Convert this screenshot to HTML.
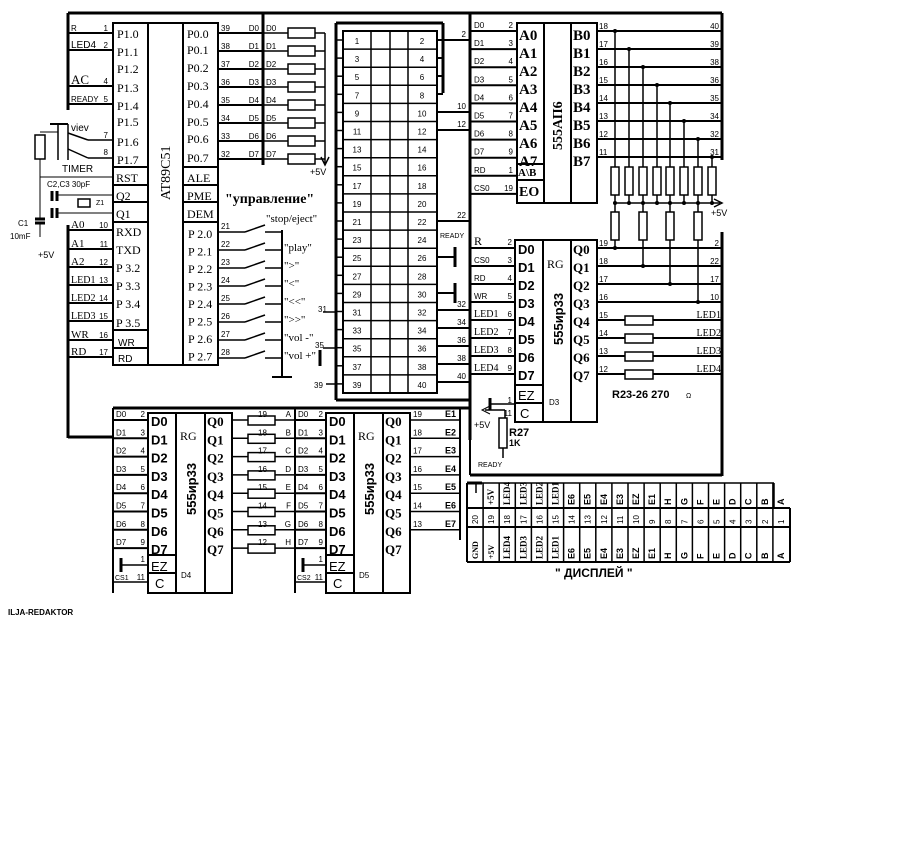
<!DOCTYPE html>
<html><head><meta charset="utf-8"><style>
html,body{margin:0;padding:0;background:#fff;width:915px;height:841px;overflow:hidden}
svg{display:block}
</style></head><body>
<svg id="s" width="915" height="841" xmlns="http://www.w3.org/2000/svg" font-family="Liberation Sans, DejaVu Sans, sans-serif"></svg>
<script>
var s=document.getElementById('s'),h='';
function L(a,b,c,d,w){h+='<line x1="'+a+'" y1="'+b+'" x2="'+c+'" y2="'+d+'" stroke="#000" stroke-width="'+(w||1)+'"/>';}
function R(x,y,w,hh,sw){h+='<rect x="'+x+'" y="'+y+'" width="'+w+'" height="'+hh+'" fill="none" stroke="#000" stroke-width="'+(sw||2)+'"/>';}
function T(x,y,t,sz,an,ff,fw){h+='<text x="'+x+'" y="'+y+'" font-size="'+(sz||9)+'" text-anchor="'+(an||'start')+'"'+(ff?' font-family="'+ff+'"':'')+(fw?' font-weight="'+fw+'"':'')+'>'+t+'</text>';}
function TV(x,y,t,sz,ff,fw){h+='<text transform="translate('+x+','+y+') rotate(-90)" font-size="'+(sz||9)+'"'+(ff?' font-family="'+ff+'"':'')+(fw?' font-weight="'+fw+'"':'')+'>'+t+'</text>';}
function RES(x,y,w,hh){h+='<rect x="'+x+'" y="'+y+'" width="'+w+'" height="'+hh+'" fill="#fff" stroke="#000" stroke-width="1.5"/>';}
function DOT(x,y){h+='<circle cx="'+x+'" cy="'+y+'" r="2"/>';}
var SER='Liberation Serif, serif';
L(68,13,722,13,3);L(722,13,722,160,3);
L(68,13,68,110,3);L(68,225,68,438,3);L(68,437,113,437,3);
L(263,13,263,165,3);L(470,13,470,440,3);
R(113,23,35,342);R(148,23,35,342);R(183,23,35,342);
var lc=[['P1.0',34],['P1.1',52],['P1.2',69],['P1.3',88],['P1.4',106],['P1.5',122],['P1.6',142],['P1.7',160]];
lc.forEach(function(a){T(117,a[1]+4,a[0],12,'start',SER);});
L(113,167,148,167,2);L(113,185,148,185,2);L(113,202,148,202,2);L(113,222,148,222,2);L(113,330,148,330,2);L(113,348,148,348,2);
T(116,182,'RST',12,'start',SER);T(116,200,'Q2',12,'start',SER);T(116,218,'Q1',12,'start',SER);
[['RXD',236],['TXD',254],['P 3.2',272],['P 3.3',290],['P 3.4',308],['P 3.5',327]].forEach(function(a){T(116,a[1],a[0],12,'start',SER);});
T(118,346,'WR',10);T(118,362,'RD',10);
var rc=['P0.0','P0.1','P0.2','P0.3','P0.4','P0.5','P0.6','P0.7'];
var py=[36,52,70,88,106,124,141,160];
rc.forEach(function(t,i){T(187,py[i]+2,t,12,'start',SER);});
L(183,167,218,167,2);L(183,185,218,185,2);L(183,202,218,202,2);L(183,222,218,222,2);
T(187,182,'ALE',12,'start',SER);T(187,200,'PME',12,'start',SER);T(187,218,'DEM',12,'start',SER);
for(var i=0;i<8;i++)T(188,238+i*17.5,'P 2.'+i,12,'start',SER);
TV(170,200,'AT89C51',14,SER);
var lp=[['R','1',31],['LED4','2',48],['AC','4',84],['READY','5',102]];
lp.forEach(function(a){L(68,a[2]+2,113,a[2]+2,2);T(71,a[2],a[0],a[0]=='AC'?13:(a[0]=='LED4'?10:8),'start',a[0]=='AC'?SER:null);T(108,a[2],a[1],8,'end');});
var lp2=[['A0','10',230],['A1','11',249],['A2','12',267],['LED1','13',285],['LED2','14',303],['LED3','15',321],['WR','16',340],['RD','17',357]];
lp2.forEach(function(a){L(68,a[2],113,a[2],2);T(71,a[2]-2,a[0],a[0].length==2?11:10,'start',SER);T(108,a[2]-2,a[1],8,'end');});
L(50,124,68,124,2);L(58,124,58,160,1.5);L(68,124,68,160,1.5);
L(68,133,88,140,1.5);L(88,140,113,140,1.5);L(68,149,88,158,1.5);L(88,158,113,158,1.5);
T(71,131,'viev',10);T(108,138,'7',8,'end');T(108,155,'8',8,'end');T(62,172,'TIMER',10);
L(40,132,58,132,1);RES(35,135,10,24);L(40,159,40,177,1);L(40,177,113,177,1);L(40,177,40,215,1);
T(47,187,'C2,C3 30pF',8);
L(52,191,52,201,3);L(57,191,57,201,3);L(52,208,52,218,3);L(57,208,57,218,3);
L(57,195,113,195,1);L(57,213,113,213,1);R(78,199,12,8,1.5);T(96,205,'Z1',7);
L(40,215,40,218,1);L(35,219,45,219,3);L(35,223,45,223,3);L(40,223,40,237,1);T(18,226,'C1',8);T(10,239,'10mF',8);T(38,258,'+5V',9);
var dn=['39','38','37','36','35','34','33','32'];
for(var i=0;i<8;i++){var y=31+i*18;L(218,y+2,263,y+2,2);T(221,y,dn[i],8);T(259,y,'D'+i,8,'end');L(263,y+2,288,y+2,1.5);T(266,y,'D'+i,8);RES(288,y-3,27,10);L(315,y+2,325,y+2,1.5);}
L(325,33,325,163,1.5);h+='<path d="M321,157 L325,165 L329,157" fill="none" stroke="#000" stroke-width="1.5"/>';T(310,175,'+5V',9);
T(225,203,'"управление"',14,'start',SER,'bold');T(266,222,'"stop/eject"',11,'start',SER);
var sl=['"play"','">"','"<"','"<<"','">>"','"vol -"','"vol +"'];
for(var i=0;i<8;i++){var y=232+i*18;L(218,y,245,y,1.5);T(221,y-3,''+(21+i),8);L(245,y,265,y-7,1.5);L(265,y,282,y,1.5);if(i>0)T(284,y+1,sl[i-1],11,'start',SER);}
L(282,230,282,377,2);L(272,377,292,377,2);
L(336,23,443,23,3);L(336,23,336,400,3);L(336,400,470,400,3);L(443,23,443,93,3);
R(343,31,94,362,2);[371,390,408].forEach(function(x){L(x,31,x,393,1.5);});
for(var r=0;r<20;r++){var y=31+r*18.1;if(r>0)L(343,y,437,y,1.5);L(336,y+9,343,y+9,1.5);T(357,y+13,''+(2*r+1),8,'middle');T(422,y+13,''+(2*r+2),8,'middle');}
for(var r=0;r<4;r++){L(437,40+r*18,443,40+r*18,2);}
L(443,40,470,40,2);T(466,37,'2',8,'end');
L(437,112,470,112,2);T(466,109,'10',8,'end');L(437,130,470,130,2);T(466,127,'12',8,'end');
L(437,221,470,221,2);T(466,218,'22',8,'end');T(440,238,'READY',7);
L(437,257,455,257,2);L(455,247,455,267,3);L(437,293,455,293,2);L(455,283,455,303,3);
[['32',310],['34',328],['36',346],['38',364],['40',382]].forEach(function(a){L(437,a[1],470,a[1],2);T(466,a[1]-3,a[0],8,'end');});
L(323,312,336,312,1.5);T(318,312,'31',8);L(323,348,336,348,1.5);T(315,348,'35',8);L(320,350,320,366,3);
L(326,384,336,384,1.5);T(314,388,'39',8);
R(517,23,27,180);R(544,23,27,180);R(571,23,26,180);L(517,164,544,164,2);L(517,180,544,180,2);
TV(562,150,'555АП6',14,SER,'bold');
var al=['D0','D1','D2','D3','D4','D5','D6','D7','RD','CS0'],an=['2','3','4','5','6','7','8','9','1','19'];
for(var i=0;i<10;i++){var y=31+i*18.1;L(470,y,517,y,2);T(474,y-3,al[i],8);T(513,y-3,an[i],8,'end');}
for(var i=0;i<8;i++){T(519,40+i*18,'A'+i,15,'start',SER,'bold');T(573,40+i*18,'B'+i,15,'start',SER,'bold');}
T(518,176,'A\\B',11,'start',SER,'bold');T(519,196,'EO',14,'start',SER,'bold');
var bn=['18','17','16','15','14','13','12','11'],cn=['40','39','38','36','35','34','32','31'];
var dx=[615,629,643,657,670,684,698,712];
for(var i=0;i<8;i++){var y=31+i*18;L(597,y,722,y,2);T(599,y-2,bn[i],8);T(719,y-2,cn[i],8,'end');DOT(dx[i],y);L(dx[i],y,dx[i],167,1.5);RES(dx[i]-4,167,8,28);L(dx[i],195,dx[i],203,1.5);DOT(dx[i],203);}
L(615,203,720,203,1.5);h+='<path d="M714,199 L722,203 L714,207" fill="none" stroke="#000" stroke-width="1.5"/>';T(711,216,'+5V',9);
[615,643,670,698].forEach(function(x,k){L(x,203,x,212,1.5);RES(x-4,212,8,28);L(x,240,x,248+k*18,1.5);DOT(x,248+k*18);});
R(515,240,28,182);R(543,240,28,182);R(571,240,26,182);L(515,385,543,385,2);L(515,403,543,403,2);
T(547,268,'RG',12,'start',SER);TV(563,345,'555ир33',13,null,'bold');T(549,405,'D3',8);
var ll=['R','CS0','RD','WR','LED1','LED2','LED3','LED4'];
for(var i=0;i<8;i++){var y=248+i*18;L(470,y,515,y,2);T(474,y-3,ll[i],ll[i]=='R'?12:(i>3?10:8),'start',ll[i]=='R'||i>3?SER:null);T(512,y-3,''+(2+i),8,'end');T(518,y+6,'D'+i,13,'start',null,'bold');T(573,y+6,'Q'+i,13,'start',SER,'bold');}
T(518,400,'EZ',13);T(520,418,'C',13);
var qn=['19','18','17','16','15','14','13','12'],qr=['2','22','17','10'],led=['LED1','LED2','LED3','LED4'];
for(var i=0;i<8;i++){var y=248+i*18;L(597,y,722,y,2);T(599,y-2,qn[i],8);if(i<4)T(719,y-2,qr[i],8,'end');else{RES(625,y-4,28,9);T(721,y-2,led[i-4],10,'end',SER);}}
L(722,232,722,476,3);
T(612,398,'R23-26 270',11,null,null,'bold');T(686,398,'Ω',7);
L(490,398,490,410,3);L(490,404,515,404,1.5);T(512,403,'1',8,'end');T(512,416,'11',8,'end');
L(485,410,505,410,1.5);L(505,410,505,418,1.5);h+='<path d="M490,406 L482,410 L490,414" fill="none" stroke="#000"/>';
T(474,428,'+5V',9);RES(499,418,8,30);L(503,448,503,458,1.5);T(509,436,'R27',11,null,null,'bold');T(509,446,'1K',9,null,null,'bold');
T(478,467,'READY',7);L(470,440,470,470,2);L(470,475,722,475,3);L(470,470,470,475,2);
L(113,408,470,408,3);L(113,408,113,593,2);L(295,408,295,593,2);L(470,400,470,408,3);
function REG(x0,xp,nm,cs){
 R(x0,413,28,180);R(x0+28,413,29,180);R(x0+57,413,27,180);L(x0,555,x0+28,555,2);L(x0,573,x0+28,573,2);
 T(x0+32,440,'RG',12,'start',SER);TV(x0+48,515,'555ир33',13,null,'bold');T(x0+33,578,nm,8);
 for(var i=0;i<8;i++){var y=420+i*18.3;L(xp,y,x0,y,2);T(xp+3,y-3,'D'+i,8);T(x0-3,y-3,''+(2+i),8,'end');T(x0+3,y+6,'D'+i,13,'start',null,'bold');T(x0+59,y+6,'Q'+i,13,'start',SER,'bold');}
 T(x0+3,571,'EZ',13);T(x0+7,588,'C',13);
 L(xp+8,558,xp+8,572,3);L(xp+8,565,x0,565,1.5);T(x0-3,562,'1',8,'end');L(xp,582,x0,582,1.5);T(xp+2,580,cs,7);T(x0-3,580,'11',8,'end');
}
REG(148,113,'D4','CS1');REG(326,295,'D5','CS2');
var AH='ABCDEFGH';
for(var i=0;i<8;i++){var y=420+i*18.3;L(232,y,295,y,1.5);RES(248,y-4,27,9);T(258,y-3,''+(19-i),8);T(291,y-3,AH[i],8,'end');}
for(var i=0;i<7;i++){var y=420+i*18.3;L(410,y,460,y,1.5);T(413,y-3,''+(19-i),8);T(456,y-3,'E'+(i+1),9,'end',null,'bold');}
L(460,408,460,540,2);
var cols=['GND','+5V','LED4','LED3','LED2','LED1','E6','E5','E4','E3','EZ','E1','H','G','F','E','D','C','B','A'];
var X0=467,CW=16.1;
L(467,483,467,562,2);L(467,508,790,508,2);L(467,527,790,527,2);L(467,562,790,562,2);L(790,508,790,562,2);
L(482,483,774,483,1.5);L(774,483,774,508,1.5);
for(var i=0;i<20;i++){var x=X0+i*CW;if(i>0)L(x,483,x,562,1.5);var n=''+(20-i);TV(x+11,524,n,8);TV(x+11,559,cols[i],i<2?8:9,cols[i].length>2?SER:null,'bold');if(i>0)TV(x+11,505,cols[i],9,cols[i].length>2?SER:null,'bold');}
L(467,483,482,483,3);L(476,483,476,493,1.5);
T(555,577,'" ДИСПЛЕЙ "',12,'start',null,'bold');
T(8,615,'ILJA-REDAKTOR',8,'start',null,'bold');
s.innerHTML=h;
</script>
</body></html>
